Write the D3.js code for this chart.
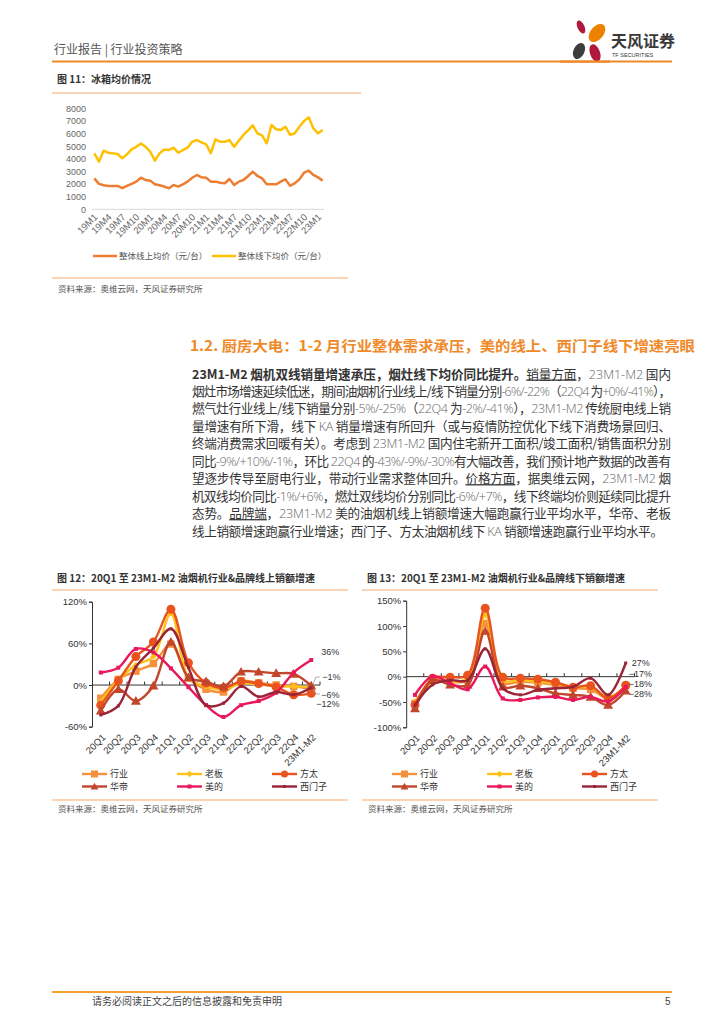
<!DOCTYPE html>
<html><head><meta charset="utf-8">
<script src="https://cdn.jsdelivr.net/npm/d3@7"></script>
<style>body{margin:0;background:#fff}svg{display:block}</style>
</head><body>
<svg id="c" width="724" height="1024"></svg>
<script>
// ---------- DATA ----------
const months = ["19M1","19M2","19M3","19M4","19M5","19M6","19M7","19M8","19M9","19M10","19M11","19M12",
"20M1","20M2","20M3","20M4","20M5","20M6","20M7","20M8","20M9","20M10","20M11","20M12",
"21M1","21M2","21M3","21M4","21M5","21M6","21M7","21M8","21M9","21M10","21M11","21M12",
"22M1","22M2","22M3","22M4","22M5","22M6","22M7","22M8","22M9","22M10","22M11","22M12",
"23M1","23M2"];
const monthTicks = ["19M1","19M4","19M7","19M10","20M1","20M4","20M7","20M10","21M1","21M4","21M7","21M10","22M1","22M4","22M7","22M10","23M1"];
const onlinePrice = [2450,2010,1900,1850,1850,1850,1670,1850,2010,2190,2500,2320,2270,1980,1900,1800,1670,1930,1800,1980,2190,2500,2720,2530,2500,
2190,2190,2110,2060,2400,1930,2190,2320,2640,2980,2640,2450,1980,1980,1980,2190,2370,1870,2060,2370,2900,3060,2720,2530,2270];
const offlinePrice = [4430,3770,4640,4480,4430,4380,4040,4350,4740,4950,5220,4950,4560,3850,4430,4740,4690,4880,4480,4690,4880,5350,5480,5300,5140,
4450,5540,5350,5350,5480,4950,5430,5890,6250,6650,6020,5850,5230,6680,6340,6280,6540,5890,6020,6540,6990,7280,6410,6020,6280];
const priceYTicks = [0,1000,2000,3000,4000,5000,6000,7000,8000];
const priceSeriesNames = ["整体线上均价（元/台）","整体线下均价（元/台）"];

const quarters = ["20Q1","20Q2","20Q3","20Q4","21Q1","21Q2","21Q3","21Q4","22Q1","22Q2","22Q3","22Q4","23M1-M2"];
const brands = ["行业","老板","方太","华帝","美的","西门子"];
// online sales growth (%)
const onIndustry = [-19,8,20,31,59,10,-6,-10,6,3,0,-2,-6];
const onRobam    = [-24,7,29,41,103,11,-2,-6,2,1,-2,-2,-3];
const onFotile   = [-29,6,41,62,109,32,3,-4,5,2,-3,-14,-12];
const onVatti    = [-37,-6,-23,-1,62,11,5,-2,19,19,17,16,-1];
const onMidea    = [18,25,52,47,24,-3,-29,-46,-29,-23,-11,18,36];
const onSiemens  = [-43,-30,26,53,81,25,-29,-26,-2,-17,-10,-14,-4];
// offline KA sales growth (%)
const offIndustry = [-53,-7,-10,-7,105,-12,-10,-12,-16,-23,-25,-43,-18];
const offRobam    = [-49,-13,-10,-3,122,-7,-7,-10,-13,-20,-21,-40,-22];
const offFotile   = [-56,-3,-1,3,135,-1,-3,-5,-11,-21,-18,-43,-17];
const offVatti    = [-63,-7,-16,-16,90,-20,-18,-23,-33,-36,-40,-56,-28];
const offMidea    = [-36,1,-13,-25,20,-43,-46,-41,-40,-46,-40,-49,-20];
const offSiemens  = [-56,-16,-7,-7,55,-23,-36,-26,-23,-20,-3,-36,27];
const onTicks = [-60,0,60,120];
const offTicks = [-100,-50,0,50,100,150];

// ---------- DRAW ----------
const svg = d3.select("#c");
const CJK = "'Noto Sans CJK SC','Noto Sans',sans-serif";
const LAT = "'Liberation Sans','Noto Sans CJK SC',sans-serif";
const ORANGE = "#F0892A";

// header
svg.append("text").attr("x",54).attr("y",54).attr("font-family",CJK).attr("font-size",12).attr("fill","#555")
  .text("行业报告 | 行业投资策略");
svg.append("line").attr("x1",52).attr("x2",672).attr("y1",61.5).attr("y2",61.5).attr("stroke",ORANGE).attr("stroke-width",2);
// logo
const logo = svg.append("g");
[[581,27,3.5,7,-25,"#B0193C"],[597,33,6.5,10.5,40,"#EE8200"],[579,51,5.5,8.5,25,"#3D3D3D"],[595,53,5,9,-20,"#B0193C"]].forEach(p=>{
  logo.append("ellipse").attr("cx",p[0]).attr("cy",p[1]).attr("rx",p[2]).attr("ry",p[3])
   .attr("transform",`rotate(${p[4]},${p[0]},${p[1]})`).attr("fill",p[5]);
});
svg.append("rect").attr("x",560).attr("y",60.5).attr("width",50).attr("height",2.2).attr("fill",ORANGE);
logo.append("text").attr("x",611).attr("y",47).attr("font-family",CJK).attr("font-weight","bold").attr("font-size",16).attr("fill","#3a3a3a").text("天风证券");
logo.append("text").attr("x",612).attr("y",57).attr("font-family",LAT).attr("font-size",5.5).attr("fill","#3a3a3a").text("TF SECURITIES");

// ---------- Chart 1 ----------
svg.append("text").attr("x",57).attr("y",83).attr("font-family",CJK).attr("font-size",10).attr("font-weight","bold").attr("fill","#333").text("图 11：冰箱均价情况");
svg.append("line").attr("x1",52).attr("x2",361).attr("y1",93).attr("y2",93).attr("stroke","#F6A96A").attr("stroke-width",1);

const x1s = d3.scalePoint().domain(months).range([94.3,322.7]);
const y1s = d3.scaleLinear().domain([0,8000]).range([209.3,108.3]);
const g1 = svg.append("g");
g1.append("line").attr("x1",92).attr("x2",324).attr("y1",y1s(0)).attr("y2",y1s(0)).attr("stroke","#d9d9d9").attr("stroke-width",1);
const ya1 = g1.append("g").attr("transform","translate(86,0)").call(d3.axisLeft(y1s).tickValues(priceYTicks).tickSize(0).tickFormat(d3.format("d")));
ya1.select(".domain").remove();
ya1.selectAll("text").attr("font-family",LAT).attr("font-size",9).attr("fill","#666").attr("x",0);
const xa1 = g1.append("g").attr("transform",`translate(0,${y1s(0)})`).call(d3.axisBottom(x1s).tickValues(monthTicks).tickSize(0));
xa1.select(".domain").remove();
xa1.selectAll("text").attr("font-family",LAT).attr("font-size",9.5).attr("fill","#666")
  .attr("x",0).attr("y",0).attr("dy","0.35em").attr("text-anchor","end").attr("transform","translate(1,6) rotate(-45)");
const line1 = d3.line().x((d,i)=>x1s(months[i])).y(d=>y1s(d));
g1.append("path").attr("d",line1(onlinePrice)).attr("fill","none").attr("stroke","#ED7D31").attr("stroke-width",2.5).attr("stroke-linejoin","round");
g1.append("path").attr("d",line1(offlinePrice)).attr("fill","none").attr("stroke","#FFC000").attr("stroke-width",2.5).attr("stroke-linejoin","round");
// legend
[[93,"#ED7D31",priceSeriesNames[0]],[212,"#FFC000",priceSeriesNames[1]]].forEach(l=>{
  g1.append("line").attr("x1",l[0]).attr("x2",l[0]+24).attr("y1",256).attr("y2",256).attr("stroke",l[1]).attr("stroke-width",2.5);
  g1.append("text").attr("x",l[0]+26).attr("y",259).attr("font-family",CJK).attr("font-size",8.5).attr("fill","#555").text(l[2]);
});
svg.append("line").attr("x1",52).attr("x2",348).attr("y1",278).attr("y2",278).attr("stroke","#F6A96A").attr("stroke-width",1);
svg.append("text").attr("x",58).attr("y",292).attr("font-family",CJK).attr("font-size",8.5).attr("fill","#555").text("资料来源：奥维云网，天风证券研究所");

// ---------- Section text ----------
svg.append("text").attr("x",190).attr("y",350.5).attr("font-family",CJK).attr("font-size",14).attr("font-weight","bold")
  .attr("fill","#F0892A").attr("textLength",505).attr("lengthAdjust","spacingAndGlyphs")
  .text("1.2. 厨房大电：1-2 月行业整体需求承压，美的线上、西门子线下增速亮眼");

const bodyLines = [
 [["23M1-M2 烟机双线销量增速承压，烟灶线下均价同比提升。","b"],["销量方面","u"],["，",""],["23M1-M2","n"],[" 国内",""]],
 [["烟灶市场增速延续低迷，期间油烟机行业线上/线下销量分别",""],["-6%/-22%","n"],["（",""],["22Q4","n"],[" 为",""],["+0%/-41%","n"],["），",""]],
 [["燃气灶行业线上/线下销量分别",""],["-5%/-25%","n"],["（",""],["22Q4","n"],[" 为",""],["-2%/-41%","n"],["），",""],["23M1-M2","n"],[" 传统厨电线上销",""]],
 [["量增速有所下滑，线下 ",""],["KA","n"],[" 销量增速有所回升（或与疫情防控优化下线下消费场景回归、",""]],
 [["终端消费需求回暖有关）。考虑到 ",""],["23M1-M2","n"],[" 国内住宅新开工面积/竣工面积/销售面积分别",""]],
 [["同比",""],["-9%/+10%/-1%","n"],["，环比 ",""],["22Q4","n"],[" 的",""],["-43%/-9%/-30%","n"],["有大幅改善，我们预计地产数据的改善有",""]],
 [["望逐步传导至厨电行业，带动行业需求整体回升。",""],["价格方面","u"],["，据奥维云网，",""],["23M1-M2","n"],[" 烟",""]],
 [["机双线均价同比",""],["-1%/+6%","n"],["，燃灶双线均价分别同比",""],["-6%/+7%","n"],["，线下终端均价则延续同比提升",""]],
 [["态势。",""],["品牌端","u"],["，",""],["23M1-M2","n"],["  美的油烟机线上销额增速大幅跑赢行业平均水平，华帝、老板",""]],
 [["线上销额增速跑赢行业增速；西门子、方太油烟机线下 ",""],["KA","n"],[" 销额增速跑赢行业平均水平。",""]]
];
bodyLines.forEach((segs,i)=>{
  const t = svg.append("text").attr("x",192).attr("y",378.5+17.45*i).attr("font-family",CJK).attr("font-size",12.6).attr("fill","#333")
    .attr("textLength", i===bodyLines.length-1 ? 471 : 479).attr("lengthAdjust","spacing");
  segs.forEach(s=>{
    const ts = t.append("tspan").text(s[0]);
    if(s[1]==="b") ts.attr("font-weight","bold").attr("fill","#333");
    if(s[1]==="u") ts.attr("text-decoration","underline");
    if(s[1]==="n") ts.attr("fill","#666").attr("font-family","'Open Sans','Noto Sans CJK SC',sans-serif").attr("font-weight",300);
  });
});

// ---------- Growth charts ----------
const styles = [
  {color:"#F5913A", mk:"square", sz:7.5},
  {color:"#FFC21A", mk:"diamond", sz:6.5},
  {color:"#E8531E", mk:"circle", sz:9},
  {color:"#C2462B", mk:"triangle", sz:9},
  {color:"#E8185A", mk:"square", sz:4},
  {color:"#9A2438", mk:"square", sz:3}
];
function marker(g, st, cx, cy){
  const s = st.sz;
  if(st.mk==="square") g.append("rect").attr("x",cx-s/2).attr("y",cy-s/2).attr("width",s).attr("height",s).attr("fill",st.color);
  else if(st.mk==="circle") g.append("circle").attr("cx",cx).attr("cy",cy).attr("r",s/2).attr("fill",st.color);
  else if(st.mk==="diamond") g.append("path").attr("d",`M${cx},${cy-s/2}L${cx+s/2},${cy}L${cx},${cy+s/2}L${cx-s/2},${cy}Z`).attr("fill",st.color);
  else if(st.mk==="triangle") g.append("path").attr("d",`M${cx},${cy-s*0.55}L${cx+s*0.55},${cy+s*0.42}L${cx-s*0.55},${cy+s*0.42}Z`).attr("fill",st.color);
}
function growthChart(o){
  const g = svg.append("g");
  g.append("text").attr("x",o.titleX).attr("y",582).attr("font-family",CJK).attr("font-size",10).attr("font-weight","bold").attr("fill","#333").text(o.title);
  g.append("line").attr("x1",o.titleX-5).attr("x2",o.titleX+291).attr("y1",590).attr("y2",590).attr("stroke","#F6A96A").attr("stroke-width",1);
  const x = d3.scaleBand().domain(quarters).range(o.xr);
  const xc = d => x(d)+x.bandwidth()/2;
  const y = d3.scaleLinear().domain(o.yd).range(o.yr);
  // y axis
  const ya = g.append("g").attr("transform",`translate(${o.xr[0]},0)`).call(d3.axisLeft(y).tickValues(o.ticks).tickSize(3).tickPadding(2).tickFormat(d=>d+"%"));
  ya.select(".domain").attr("stroke","#333");
  ya.selectAll("line").attr("stroke","#333");
  ya.selectAll("text").attr("font-family",LAT).attr("font-size",9.5).attr("fill","#333");
  // zero baseline with inner ticks
  g.append("line").attr("x1",o.xr[0]).attr("x2",o.xr[1]).attr("y1",y(0)).attr("y2",y(0)).attr("stroke","#333").attr("stroke-width",1);
  quarters.forEach((q,i)=>{ if(i>0){ g.append("line").attr("x1",x(q)).attr("x2",x(q)).attr("y1",y(0)).attr("y2",y(0)-3.5).attr("stroke","#333");}});
  g.append("line").attr("x1",o.xr[1]).attr("x2",o.xr[1]).attr("y1",y(0)).attr("y2",y(0)-3.5).attr("stroke","#333");
  // x labels
  const xa = g.append("g").attr("transform",`translate(0,${o.yr[0]+4})`).call(d3.axisBottom(x).tickSize(0));
  xa.select(".domain").remove();
  xa.selectAll("text").attr("font-family",LAT).attr("font-size",9.5).attr("fill","#333")
    .attr("x",0).attr("y",0).attr("dy","0.35em").attr("text-anchor","end").attr("transform","translate(3,5) rotate(-45)");
  // lines
  const ln = d3.line().x((d,i)=>xc(quarters[i])).y(d=>y(d)).curve(d3.curveCatmullRom.alpha(0.5));
  o.series.forEach((s,k)=>{
    const st = styles[k];
    g.append("path").attr("d",ln(s)).attr("fill","none").attr("stroke",st.color).attr("stroke-width",2.4);
    s.forEach((v,i)=>marker(g,st,xc(quarters[i]),y(v)));
  });
  // end labels
  const lastX = xc(quarters[quarters.length-1]);
  o.labels.forEach(l=>{
    const s = o.series[l.k];
    const v = s[s.length-1];
    g.append("text").attr("x",lastX+l.dx).attr("y",y(v)+l.dy).attr("dy","0.35em").attr("font-family",LAT).attr("font-size",9).attr("fill","#333")
      .text(d3.format("d")(v)+"%");
  });
  if(o.leaders){
    o.leaders.forEach(p=> g.append("path").attr("d",p).attr("fill","none").attr("stroke","#999").attr("stroke-width",0.8));
  }
  // legend
  brands.forEach((b,k)=>{
    const col = k%3, row = Math.floor(k/3);
    const lx = o.legX + col*95, ly = 774 + row*12.5;
    g.append("line").attr("x1",lx).attr("x2",lx+25).attr("y1",ly).attr("y2",ly).attr("stroke",styles[k].color).attr("stroke-width",2.4);
    const st = Object.assign({},styles[k]);
    st.sz = Math.min(st.sz,7);
    marker(g,st,lx+12.5,ly);
    g.append("text").attr("x",lx+28).attr("y",ly).attr("dy","0.35em").attr("font-family",CJK).attr("font-size",9).attr("fill","#333").text(b);
  });
  g.append("line").attr("x1",o.titleX-5).attr("x2",o.titleX+291).attr("y1",800).attr("y2",800).attr("stroke","#F6A96A").attr("stroke-width",1);
  g.append("text").attr("x",o.titleX+1).attr("y",812).attr("font-family",CJK).attr("font-size",8.5).attr("fill","#555").text("资料来源：奥维云网，天风证券研究所");
}

growthChart({
  title:"图 12：20Q1 至 23M1-M2 油烟机行业&品牌线上销额增速", titleX:57,
  xr:[92,320], yd:[-60,120], yr:[726.7,601.7], ticks:onTicks,
  series:[onIndustry,onRobam,onFotile,onVatti,onMidea,onSiemens],
  labels:[{k:4,dx:10,dy:-8},{k:3,dx:11,dy:-9},{k:0,dx:10,dy:6},{k:2,dx:5,dy:10}],
  leaders:["M313,684 L316,677 L320,677","M313,689 L316,694 L320,694"],
  legX:82
});
growthChart({
  title:"图 13：20Q1 至 23M1-M2 油烟机行业&品牌线下销额增速", titleX:367,
  xr:[406.2,634.5], yd:[-100,150], yr:[727.3,600.7], ticks:offTicks,
  series:[offIndustry,offRobam,offFotile,offVatti,offMidea,offSiemens],
  labels:[{k:5,dx:6,dy:0},{k:2,dx:3,dy:-11},{k:0,dx:3,dy:-2},{k:3,dx:3,dy:3}],
  legX:392
});

// footer
svg.append("line").attr("x1",52).attr("x2",672).attr("y1",992).attr("y2",992).attr("stroke","#F0A030").attr("stroke-width",2);
svg.append("text").attr("x",92).attr("y",1005).attr("font-family",CJK).attr("font-size",10).attr("fill","#444").text("请务必阅读正文之后的信息披露和免责申明");
svg.append("text").attr("x",665).attr("y",1005).attr("font-family",LAT).attr("font-size",10).attr("fill","#444").text("5");
</script>
</body></html>
